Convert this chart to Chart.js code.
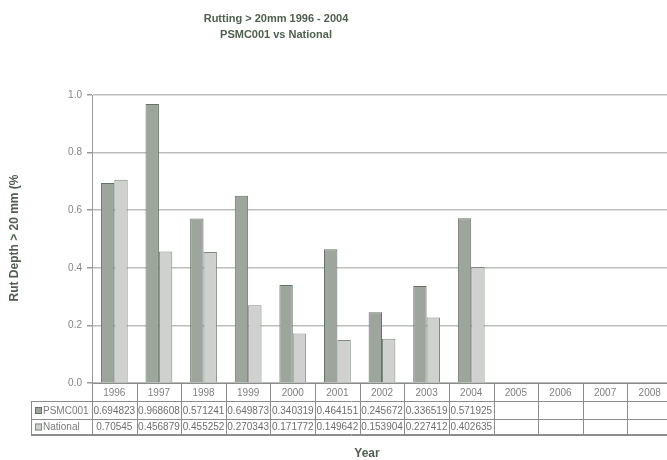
<!DOCTYPE html>
<html>
<head>
<meta charset="utf-8">
<script src="https://cdn.jsdelivr.net/npm/chart.js@4/dist/chart.umd.min.js"></script>
<style>
  html, body { margin: 0; padding: 0; background: #fff; overflow: hidden; width: 667px; height: 460px; }
  #wrap { position: absolute; left: 0; top: 0; width: 672px; height: 460px; }
</style>
</head>
<body>
<div id="wrap"><canvas id="c" width="672" height="460"></canvas></div>
<script>
// Years shown along the category axis / table header
const years = ['1996', '1997', '1998', '1999', '2000', '2001', '2002', '2003', '2004', '2005', '2006', '2007', '2008'];
// Share of network with rut depth > 20 mm
const psmc001 = [0.694823, 0.968608, 0.571241, 0.649873, 0.340319, 0.464151, 0.245672, 0.336519, 0.571925, null, null, null, null];
const national = [0.70545, 0.456879, 0.455252, 0.270343, 0.171772, 0.149642, 0.153904, 0.227412, 0.402635, null, null, null, null];
const seriesNames = ['PSMC001', 'National'];
const yTicks = [0, 0.2, 0.4, 0.6, 0.8, 1.0];

const titleLines = ['Rutting > 20mm 1996 - 2004', 'PSMC001 vs National'];
const yTitle = 'Rut Depth > 20 mm (%';
const xTitle = 'Year';

const FONT = '"Liberation Sans", Arial, sans-serif';
const TITLE_COLOR = '#4f5f4f';
const DARK_FILL = '#9da59d', DARK_EDGE = '#647464';
const LIGHT_FILL = '#cfd1cf', LIGHT_EDGE = '#7f8b7f';

// Titles plus the data table that sits under the plot
const tablePlugin = {
  id: 'dataTable',
  afterDraw(chart) {
    const ctx = chart.ctx;
    const xs = chart.scales.x;
    const area = chart.chartArea;
    const n = years.length;
    const cw = (area.right - area.left) / n;
    const top = area.bottom;
    const r1 = top + 18, r2 = r1 + 18, r3 = r2 + 15;
    const legLeft = 31;

    ctx.save();
    // titles
    ctx.fillStyle = TITLE_COLOR;
    ctx.font = 'bold 11px ' + FONT;
    ctx.textAlign = 'center';
    ctx.textBaseline = 'middle';
    ctx.fillText(titleLines[0], 276, 19);
    ctx.fillText(titleLines[1], 276, 35);

    ctx.font = 'bold 12px ' + FONT;
    ctx.fillText(xTitle, 367, 454);
    ctx.save();
    ctx.translate(15, 238);
    ctx.rotate(-Math.PI / 2);
    ctx.fillText(yTitle, 0, 0);
    ctx.restore();

    // table grid
    ctx.strokeStyle = '#8c8c8c';
    ctx.lineWidth = 1;
    const hline = (x0, x1, y) => { ctx.beginPath(); ctx.moveTo(x0, y + 0.5); ctx.lineTo(x1, y + 0.5); ctx.stroke(); };
    const vline = (x, y0, y1) => { ctx.beginPath(); ctx.moveTo(Math.round(x) + 0.5, y0); ctx.lineTo(Math.round(x) + 0.5, y1); ctx.stroke(); };
    hline(area.left, area.right, top);
    hline(legLeft, area.right, r1);
    hline(legLeft, area.right, r2);
    hline(legLeft, area.right, r3);
    hline(legLeft, area.right, r3 + 1);
    vline(legLeft, r1, r3 + 1);
    for (let i = 0; i <= n; i++) {
      vline(xs.getPixelForValue(i) - cw / 2, top, r3 + 1);
    }

    // header years
    ctx.font = '10px ' + FONT;
    ctx.fillStyle = '#808080';
    ctx.textAlign = 'center';
    years.forEach((y, i) => ctx.fillText(y, xs.getPixelForValue(i), (top + r1) / 2 + 1));

    // legend cells
    const rows = [[psmc001, DARK_FILL, DARK_EDGE, r1, r2], [national, LIGHT_FILL, LIGHT_EDGE, r2, r3]];
    rows.forEach(([vals, fill, edge, y0, y1], k) => {
      const cy = (y0 + y1) / 2 + 1;
      ctx.fillStyle = fill;
      ctx.fillRect(35, cy - 4, 7, 7);
      ctx.strokeStyle = edge;
      ctx.strokeRect(35.5, cy - 3.5, 6, 6);
      ctx.fillStyle = '#7a7a7a';
      ctx.textAlign = 'left';
      ctx.fillText(seriesNames[k], 43, cy);
      ctx.textAlign = 'center';
      ctx.fillStyle = '#6e6e6e';
      vals.forEach((v, i) => {
        if (v !== null) ctx.fillText(String(v), xs.getPixelForValue(i), cy);
      });
    });
    ctx.restore();
  }
};

new Chart(document.getElementById('c'), {
  type: 'bar',
  data: {
    labels: years,
    datasets: [
      { label: seriesNames[0], data: psmc001, backgroundColor: DARK_FILL, borderColor: DARK_EDGE, borderWidth: 1 },
      { label: seriesNames[1], data: national, backgroundColor: LIGHT_FILL, borderColor: LIGHT_EDGE, borderWidth: 1 }
    ]
  },
  options: {
    responsive: false,
    animation: false,
    devicePixelRatio: 1,
    layout: { padding: { left: 0, right: 0, top: 95, bottom: 77 } },
    plugins: { legend: { display: false }, tooltip: { enabled: false }, title: { display: false } },
    datasets: { bar: { categoryPercentage: 0.6, barPercentage: 1.0 } },
    scales: {
      x: { display: false },
      y: {
        min: 0, max: 1,
        afterFit(scale) { scale.width = 92; },
        afterBuildTicks(scale) { scale.ticks = yTicks.map(v => ({ value: v })); },
        ticks: {
          color: '#858585',
          font: { family: FONT, size: 10 },
          padding: 5,
          callback: v => Number(v).toFixed(1)
        },
        grid: { color: '#bbbfbb', lineWidth: 1.5, tickLength: 5, tickColor: '#9a9a9a' },
        border: { display: true, color: '#9a9a9a', width: 1 }
      }
    }
  },
  plugins: [tablePlugin]
});
</script>
</body>
</html>
